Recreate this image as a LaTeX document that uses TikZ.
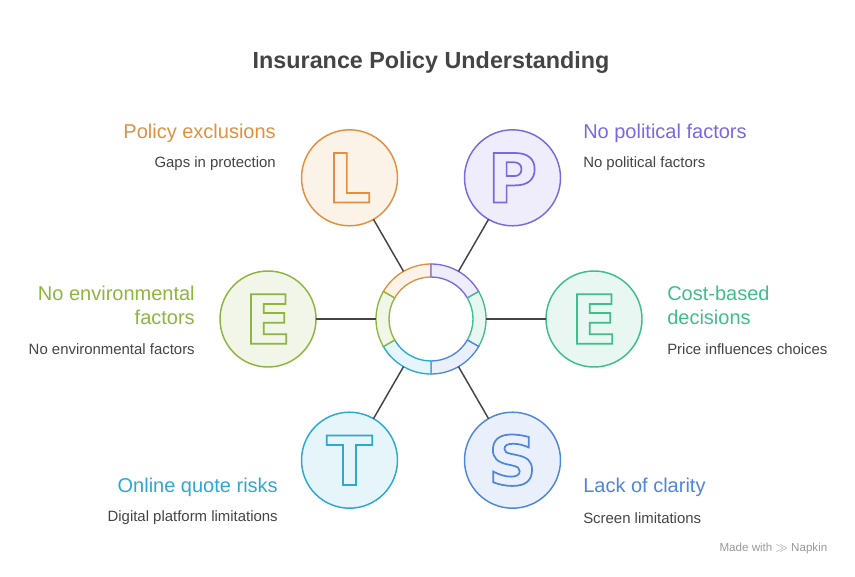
\documentclass[tikz,border=0pt]{standalone}
\usepackage{fontspec}
\setmainfont{Liberation Sans}
\newfontfamily\letterfont{DejaVu Sans}
\usetikzlibrary{positioning}

\definecolor{lorange}{HTML}{E0903F}
\definecolor{lpurple}{HTML}{7B68E0}
\definecolor{llime}{HTML}{8DB53F}
\definecolor{lgreen}{HTML}{3DBE8B}
\definecolor{lblue}{HTML}{4E86DC}
\definecolor{lcyan}{HTML}{2BA8D4}
\definecolor{inkgray}{HTML}{444444}

% hollow letters: stroke only
\newcommand{\hollow}[1]{\special{pdf:literal direct 1 Tr 1.3 w}#1\special{pdf:literal direct 0 Tr}}

\tikzset{
  bubble/.style={circle,draw=#1,fill=#1!12,text=#1,line width=1.1pt,
    minimum size=72pt,inner sep=0pt,outer sep=0pt,
    font=\letterfont\fontsize{51}{51}\selectfont\bfseries},
  head/.style={text=#1,font=\fontsize{15}{18}\selectfont,inner sep=0pt},
  sub/.style={text=inkgray,font=\fontsize{11.2}{13}\selectfont,inner sep=0pt},
  link/.style={draw=inkgray,line width=1.1pt}
}

\begin{document}
\begin{tikzpicture}[x=0.75pt,y=0.75pt]
\useasboundingbox (0,0) rectangle (855,576);

% Title
\node[text=inkgray,font=\fontsize{17.5}{17.5}\selectfont\bfseries] (title) at (431,513) {Insurance Policy Understanding};

% Hub ring
\node[circle,minimum size=82.5pt,inner sep=0pt,outer sep=0pt] (hub) at (431,257) {};
\foreach \a/\b/\c in {90/150/lorange,30/90/lpurple,-30/30/lgreen,-90/-30/lblue,-150/-90/lcyan,150/210/llime}
  \filldraw[draw=\c,fill=\c!12,line width=1pt,shift={(431,257)}]
    (\a:55) arc[start angle=\a,end angle=\b,radius=55]
    -- (\b:42) arc[start angle=\b,end angle=\a,radius=42] -- cycle;

% Letter bubbles
\node[bubble=lorange] (cL) at (349.5,398.2) {\hollow{L}};
\node[bubble=lpurple] (cP) at (512.5,398.2) {\hollow{P}};
\node[bubble=lgreen] (cEr) at (594,257) {\hollow{E}};
\node[bubble=lblue] (cS) at (512.5,115.8) {\hollow{S}};
\node[bubble=lcyan] (cT) at (349.5,115.8) {\hollow{T}};
\node[bubble=llime] (cEl) at (268,257) {\hollow{E}};

% Spokes
\foreach \n in {cL,cP,cEr,cS,cT,cEl}
  \draw[link] (hub) -- (\n);

% Labels
\node[head=lorange,anchor=east] (hL) at (276,443) {Policy exclusions};
\node[sub,anchor=east] (sL) at (276,412) {Gaps in protection};
\node[head=lpurple,anchor=west] (hP) at (583,443) {No political factors};
\node[sub,anchor=west] (sP) at (583,412) {No political factors};
\node[head=llime,anchor=east,align=right] (hEl) at (195,271) {No environmental\\factors};
\node[sub,anchor=east] (sEl) at (195,227) {No environmental factors};
\node[head=lgreen,anchor=west,align=left] (hEr) at (667,271) {Cost-based\\decisions};
\node[sub,anchor=west] (sEr) at (667,227) {Price influences choices};
\node[head=lcyan,anchor=east] (hT) at (278,89) {Online quote risks};
\node[sub,anchor=east] (sT) at (278,58) {Digital platform limitations};
\node[head=lblue,anchor=west] (hS) at (583,89) {Lack of clarity};
\node[sub,anchor=west] (sS) at (583,58) {Screen limitations};

% Watermark
\node[text=black!40,font=\fontsize{8.7}{9}\selectfont,anchor=east] (mark) at (832,28) {Made with \raisebox{-.5pt}{$\gg$} Napkin};
\end{tikzpicture}
\end{document}
